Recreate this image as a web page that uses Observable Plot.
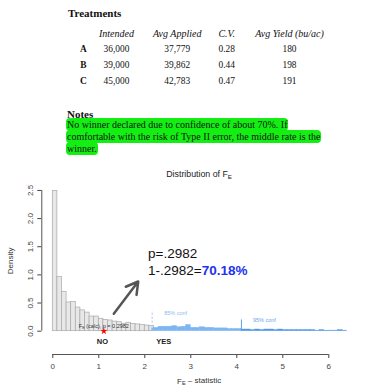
<!DOCTYPE html>
<html><head><meta charset="utf-8">
<script src="https://cdn.jsdelivr.net/npm/d3@7"></script>
<script src="https://cdn.jsdelivr.net/npm/@observablehq/plot@0.6"></script>
<style>
body{margin:0;background:#fff;width:392px;height:392px;position:relative;overflow:hidden;font-family:"Liberation Serif","Times New Roman",serif;color:#111}
.c{position:absolute;white-space:nowrap;transform:translate(-50%,-50%);line-height:1}
.h{font-style:italic;font-size:10px}
.n{font-size:9.4px}
.l{font-weight:bold;font-size:9.4px}
#title{position:absolute;left:68px;top:6px;font-weight:bold;font-size:11px;line-height:14px}
#notesT{position:absolute;left:67px;top:108px;font-weight:bold;font-size:11px;line-height:12px}
#notes{position:absolute;left:66px;top:119px;font-size:10px;line-height:12px;width:300px}
#notes span{background:#13ef13;padding:1px 1px;border-radius:4px;-webkit-box-decoration-break:clone;box-decoration-break:clone}
#chart{position:absolute;left:0;top:162px}
</style></head><body>
<div id="title">Treatments</div>
<div id="table"></div>
<div id="notesT">Notes</div>
<div id="notes"></div>
<div id="chart"></div>
<script>
// ---- table data ----
const headers = ["Intended", "Avg Applied", "C.V.", "Avg Yield (bu/ac)"];
const treatments = ["A", "B", "C"];
const intended = ["36,000", "39,000", "45,000"];
const avgApplied = ["37,779", "39,862", "42,783"];
const cv = ["0.28", "0.44", "0.47"];
const avgYield = ["180", "198", "191"];
const noteLines = ["No winner declared due to confidence of about 70%. If",
  "comfortable with the risk of Type II error, the middle rate is the",
  "winner."];

// ---- histogram data ----
const binWidth = 0.1;
const grayDensity = [2.49, 0.96, 0.70, 0.51, 0.52, 0.42, 0.37, 0.33, 0.26, 0.26, 0.22,
  0.20, 0.19, 0.17, 0.16, 0.13, 0.15, 0.13, 0.12, 0.11, 0.10, 0.09];
const blueFirstBin = 2.1;
const blueDensity = [0.05, 0.06, 0.08, 0.08, 0.08, 0.09, 0.07, 0.08, 0.11, 0.06, 0.06,
  0.07, 0.06, 0.06, 0.05, 0.05, 0.05, 0.04, 0.04, 0.04, 0.03, 0.03, 0.02, 0.03, 0.02,
  0.03, 0.03, 0.02, 0.03, 0.02, 0.02, 0.02, 0.02, 0.02, 0.02, 0.02, 0.01, 0.02, 0.01,
  0.01, 0.01, 0.02, 0.01, 0.01];
const blueEnd = 6.36;
const conf85 = 2.16;
const conf95 = 4.10;
const fCalc = 1.11;
const pValue = 0.2982;
const xTicks = [0, 1, 2, 3, 4, 5, 6];
const yTicks = [0, 0.5, 1, 1.5, 2, 2.5];

// ---- table layout ----
const colX = [83.5, 116.5, 177.2, 226.7, 289.5];
const headerY = 33.5;
const rowY = [50, 66, 82.3];
const tbl = document.getElementById("table");
function cell(txt, x, y, cls) {
  const d = document.createElement("div");
  d.className = "c " + cls; d.textContent = txt;
  d.style.left = x + "px"; d.style.top = y + "px";
  tbl.appendChild(d);
}
headers.forEach((h, i) => cell(h, colX[i + 1], headerY, "h"));
treatments.forEach((t, r) => {
  cell(t, colX[0], rowY[r], "l");
  cell(intended[r], colX[1], rowY[r], "n");
  cell(avgApplied[r], colX[2], rowY[r], "n");
  cell(cv[r], colX[3], rowY[r], "n");
  cell(avgYield[r], colX[4], rowY[r], "n");
});
document.getElementById("notes").innerHTML = "<span>" + noteLines.join("<br>") + "</span>";

// ---- chart ----
const gray = grayDensity.map((d, i) => ({x1: i * binWidth, x2: (i + 1) * binWidth, y: d}));
const blue = blueDensity.map((d, i) => {
  const s = blueFirstBin + i * binWidth;
  return {x1: Math.max(s, conf85), x2: Math.min(s + binWidth, blueEnd), y: d, hi: s >= conf95 - 1e-9};
});
const xDom = [-0.239, 6.6];
const yDom = [-0.414, 2.6];
const sans = "Liberation Sans, Arial, sans-serif";
const pText = "p=" + String(pValue).slice(1);
const confText = "1-" + String(pValue).slice(1) + "=" + ((1 - pValue) * 100).toFixed(2) + "%";

const plot = Plot.plot({
  width: 392, height: 230,
  marginLeft: 41.3, marginRight: 36.1, marginTop: 22.3, marginBottom: 38,
  x: {domain: xDom},
  y: {domain: yDom},
  style: {fontFamily: sans, background: "white"},
  marks: [
    Plot.rectY(gray, {x1: "x1", x2: "x2", y: "y", fill: "#e8e8e8", stroke: "#a9a9a9", strokeWidth: 0.7, inset: 0}),
    Plot.rectY(blue, {x1: "x1", x2: "x2", y: "y", fill: d => d.hi ? "#4f97e8" : "#7db5f3", stroke: d => d.hi ? "#4f97e8" : "#7db5f3", strokeWidth: 0.4, inset: 0}),
    Plot.ruleX([conf85], {y1: 0, y2: 0.36, stroke: "#a6c8ef", strokeDasharray: "2,2", strokeWidth: 1}),
    Plot.ruleX([conf95], {y1: 0, y2: 0.2, stroke: "#5f9fe2", strokeWidth: 1}),
    Plot.text(["85% conf"], {x: 2.67, y: 0.32, fontSize: 5.5, fill: "#8dbbef"}),
    Plot.text(["95% conf"], {x: 4.6, y: 0.19, fontSize: 5.5, fill: "#6ea6e6"}),
    Plot.text(["F_E (calc), p = " + pValue], {x: fCalc, y: 0.096, fontSize: 5.5, fill: "#333"}),
    Plot.dot([fCalc], {x: d => d, y: 0, symbol: "star", fill: "red", r: 2.2}),
    Plot.text(["NO"], {x: 1.08, y: -0.18, fontSize: 7.5, fontWeight: "bold", fill: "#222"}),
    Plot.text(["YES"], {x: 2.41, y: -0.18, fontSize: 7.5, fontWeight: "bold", fill: "#222"}),
    Plot.arrow([0], {x1: 1.326, y1: 0.309, x2: 1.857, y2: 0.883, stroke: "#555", strokeWidth: 2.5, headLength: 11}),
    Plot.text([pText], {x: 2.07, y: 1.375, textAnchor: "start", fontSize: 13.5, fill: "#111"}),
    Plot.text([confText], {x: 2.07, y: 1.07, textAnchor: "start", fontSize: 13.5, fill: "#111"}),
    Plot.axisX(xTicks, {anchor: "bottom", tickSize: 4, tickPadding: 5, fontSize: 8, color: "#444", label: null}),
    Plot.ruleY([yDom[0]], {x1: xTicks[0], x2: xTicks[xTicks.length - 1], stroke: "#555"}),
    Plot.axisY(yTicks, {anchor: "left", tickSize: 4, tickPadding: 5, tickRotate: -90, fontSize: 8, color: "#444", label: null}),
    Plot.ruleX([xDom[0]], {y1: yTicks[0], y2: yTicks[yTicks.length - 1], stroke: "#555"}),
    Plot.text(["Density"], {x: xDom[0], y: (yTicks[0] + yTicks[yTicks.length - 1]) / 2, rotate: -90, dx: -31, fontSize: 8, fill: "#333"}),
    Plot.text(["F_E \u2013 statistic"], {frameAnchor: "bottom", dy: 29, fontSize: 8, fill: "#333"}),
    Plot.text(["Distribution of F_E"], {frameAnchor: "top", dy: -13.6, fontSize: 8.8, fill: "#222"})
  ]
});
document.getElementById("chart").appendChild(plot);

// subscripts and bold percentage
const NS = "http://www.w3.org/2000/svg";
plot.querySelectorAll("text, tspan").forEach(el => {
  if (el.children.length) return;
  const t = el.textContent;
  if (t.includes("F_E")) {
    const [a, b] = t.split("F_E");
    el.textContent = "";
    const mk = (s, attrs) => { const ts = document.createElementNS(NS, "tspan"); ts.textContent = s; for (const k in attrs) ts.setAttribute(k, attrs[k]); el.appendChild(ts); };
    mk(a + "F", {});
    mk("E", {"font-size": "70%", dy: "0.25em"});
    if (b) mk(b, {dy: "-0.18em"});
  } else if (t === confText) {
    const i = t.indexOf("=") + 1;
    el.textContent = "";
    const t1 = document.createElementNS(NS, "tspan"); t1.textContent = t.slice(0, i); el.appendChild(t1);
    const t2 = document.createElementNS(NS, "tspan"); t2.textContent = t.slice(i);
    t2.setAttribute("font-weight", "bold"); t2.setAttribute("fill", "#2233ee"); el.appendChild(t2);
  }
});
</script>
</body></html>
